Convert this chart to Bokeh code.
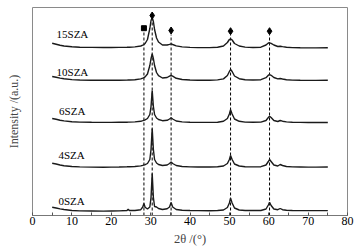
from bokeh.plotting import figure
from bokeh.models import Range1d, FixedTicker, ColumnDataSource
from bokeh.core.properties import value
from bokeh.embed import file_html
from bokeh.resources import INLINE

# 2theta grid (degrees)
two_theta = [5, 6, 7, 8, 10, 12, 15, 18, 20, 22, 24, 24.3, 24.6, 26, 27.5, 28.0, 28.3, 28.6,
             29.2, 29.8, 30.1, 30.4, 30.7, 31.0, 31.5, 32.0, 33, 34.2, 34.8, 35.2, 35.6, 36.5,
             38, 40, 42, 45, 47, 48.5, 49.5, 50.0, 50.3, 50.7, 51.3, 52.5, 54, 56, 58, 59.3,
             59.9, 60.2, 60.6, 61.3, 62.3, 62.9, 63.5, 64.5, 66, 68, 70, 72, 75]

# intensities (stacked, arbitrary units)
i_0SZA = [8.3, 7.5, 6.6, 6.0, 5.0, 4.6, 4.5, 4.4, 4.5, 4.6, 5.0, 6.3, 5.0, 5.0, 5.8, 8.5, 12, 8.3,
          6.5, 8.5, 18, 42, 18, 9, 8.5, 7.0, 6.0, 6.8, 8.5, 13, 8.5, 6.0,
          5.2, 5.0, 4.9, 4.8, 5.0, 5.5, 8.0, 12.5, 17.3, 12.5, 7.5, 5.5, 5.0, 5.0, 5.0, 6.5,
          10.5, 13.3, 10, 6.5, 5.8, 7, 5.8, 5.2, 5.0, 4.9, 4.9, 4.9, 4.9]
i_4SZA = [52.3, 51.5, 50.5, 49.8, 49.0, 48.6, 48.4, 48.3, 48.4, 48.5, 48.7, 48.8, 48.8, 49.0, 49.6, 50.2, 50.6, 50.8,
          52, 56, 66, 87, 66, 56, 52.5, 51, 50, 50.5, 52, 53.5, 52, 50,
          49, 48.6, 48.5, 48.5, 48.8, 49.5, 52, 56, 60, 56, 51.5, 49.5, 48.8, 48.6, 48.8, 50.5,
          54, 56, 54, 50.5, 49.5, 51, 50, 49, 48.6, 48.5, 48.4, 48.4, 48.5]
i_6SZA = [97, 96.2, 95.3, 94.6, 93.8, 93.4, 93.2, 93.1, 93.1, 93.2, 93.3, 93.4, 93.4, 93.6, 94.2, 94.8, 95.2, 95.6,
          97, 101, 109, 125, 109, 101, 97.5, 96, 94.8, 95.2, 96.5, 97.8, 96.5, 94.5,
          93.6, 93.2, 93.1, 93.1, 93.3, 94.2, 97, 101.5, 105.7, 101.5, 96.5, 94.2, 93.4, 93.2, 93.4, 95,
          98, 99.3, 98, 95, 94, 95, 94.3, 93.6, 93.2, 93.1, 93, 93, 93]
i_10SZA = [139, 138.2, 137.4, 136.7, 135.9, 135.5, 135.3, 135.2, 135.2, 135.3, 135.4, 135.5, 135.5, 135.8, 136.6, 137.3, 137.8, 138.6,
           141.5, 150, 157, 161.7, 157, 150, 143, 139.8, 137.5, 138, 139.3, 140, 139.3, 137.2,
           136, 135.5, 135.3, 135.3, 135.6, 136.6, 140, 144, 146, 144, 139.5, 136.8, 135.8, 135.5, 135.8, 137.8,
           140.3, 141, 140.2, 138, 136.6, 137, 136.5, 135.8, 135.4, 135.2, 135.1, 135.1, 135.2]
i_15SZA = [172.3, 171.3, 170.3, 169.5, 168.7, 168.3, 168.1, 168.0, 168.0, 168.1, 168.2, 168.3, 168.3, 168.6, 169.5, 170.3, 171, 172,
           176, 187, 195, 198, 194, 186, 177.5, 173.5, 170.5, 170.5, 171.2, 171.7, 171.0, 169.6,
           168.6, 168.1, 167.9, 167.9, 168.2, 169.5, 173, 176, 176.7, 175.5, 172, 169.5, 168.4, 168, 168.3, 170.5,
           172.5, 172.7, 172.2, 170.5, 169, 169.3, 168.9, 168.3, 167.9, 167.7, 167.6, 167.6, 167.7]

sample_names = ["0SZA", "4SZA", "6SZA", "10SZA", "15SZA"]
label_x = [6.6, 6.6, 6.75, 6.1, 6.1]
label_y = [15.0, 60.5, 104.5, 143.5, 181.5]

# reference peak lines and markers
line_pos = [28.3, 30.4, 35.2, 50.3, 60.2]
line_top = [184, 196, 181, 181, 181]
square_x = [28.3]
square_y = [187.3]
diamond_x = [30.4, 35.2, 50.3, 60.2]
diamond_y = [200, 185, 184.3, 184.3]

x_ticks = [0, 10, 20, 30, 40, 50, 60, 70, 80]
x_minor = [5, 15, 25, 35, 45, 55, 65, 75]

SERIF = "Liberation Serif"

p = figure(width=362, height=250, output_backend="svg", toolbar_location=None,
           x_range=Range1d(0, 80), y_range=Range1d(0, 208),
           min_border_left=32, min_border_right=15, min_border_top=7, min_border_bottom=35)
p.background_fill_color = "white"
p.border_fill_color = "white"
p.outline_line_color = "#8a8a8a"
p.outline_line_width = 1
p.xgrid.visible = False
p.ygrid.visible = False

# dashed reference lines
p.segment(x0=line_pos, y0=[0] * len(line_pos), x1=line_pos, y1=line_top,
          line_color="black", line_width=1, line_dash="3 2")

series = [i_0SZA, i_4SZA, i_6SZA, i_10SZA, i_15SZA]
for ys in series:
    p.line(two_theta, ys, line_color="#1a1a1a", line_width=1.4)

p.scatter(square_x, square_y, marker="square", size=5, fill_color="black", line_color="black")
p.scatter(diamond_x, diamond_y, marker="diamond", size=7, fill_color="black", line_color="black")

src = ColumnDataSource(dict(x=label_x, y=label_y, t=sample_names))
p.text(x="x", y="y", text="t", source=src, text_font=value(SERIF), text_font_size="11px",
       text_align="left", text_baseline="alphabetic", text_color="black")

xa = p.xaxis[0]
xa.ticker = FixedTicker(ticks=x_ticks, minor_ticks=x_minor)
xa.major_tick_in = 3
xa.major_tick_out = 0
xa.minor_tick_in = 3
xa.minor_tick_out = 0
xa.major_tick_line_color = "#555"
xa.minor_tick_line_color = "#555"
xa.axis_line_color = "#777"
xa.major_label_text_font = SERIF
xa.major_label_text_font_size = "12px"
xa.major_label_text_color = "black"
xa.major_label_standoff = 1
xa.axis_label = "2θ /(°)"
xa.axis_label_text_font = SERIF
xa.axis_label_text_font_size = "12.5px"
xa.axis_label_text_font_style = "normal"
xa.axis_label_standoff = 4

ya = p.yaxis[0]
ya.ticker = FixedTicker(ticks=[])
ya.axis_line_color = None
ya.major_tick_out = 0
ya.major_tick_in = 0
ya.minor_tick_out = 0
ya.minor_tick_in = 0
ya.major_label_text_font_size = "0px"
ya.axis_label = "Intensity /(a.u.)"
ya.axis_label_text_font = SERIF
ya.axis_label_text_font_size = "12px"
ya.axis_label_text_font_style = "normal"
ya.axis_label_standoff = 12

open("out.html", "w").write(file_html(p, INLINE))
